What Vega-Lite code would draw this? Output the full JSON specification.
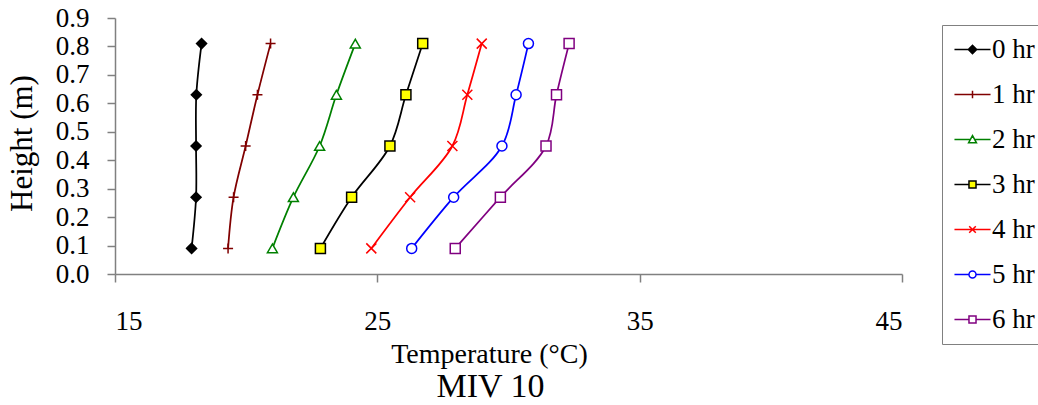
{
  "$schema": "https://vega.github.io/schema/vega-lite/v6.json",
  "width": 787,
  "height": 256,
  "autosize": {"type": "none"},
  "padding": {"left": 115, "top": 18, "right": 136, "bottom": 131},
  "background": "white",
  "config": {
    "font": "Liberation Serif",
    "view": {"stroke": null},
    "axis": {
      "grid": false,
      "labelFont": "Liberation Serif",
      "titleFont": "Liberation Serif",
      "labelColor": "black",
      "titleColor": "black",
      "titleFontWeight": "normal",
      "domainColor": "#808080",
      "tickColor": "#808080",
      "domainWidth": 1.5,
      "tickWidth": 1.5,
      "tickSize": 8
    }
  },
  "title": {
    "text": "MIV 10",
    "orient": "bottom",
    "anchor": "middle",
    "frame": "group",
    "font": "Liberation Serif",
    "fontSize": 34,
    "fontWeight": "normal",
    "color": "black",
    "dx": -18,
    "offset": 2
  },
  "data": {
    "values": [
      {"series": "0 hr", "temp": 17.92, "h": 0.09},
      {"series": "0 hr", "temp": 18.09, "h": 0.27},
      {"series": "0 hr", "temp": 18.09, "h": 0.45},
      {"series": "0 hr", "temp": 18.10, "h": 0.63},
      {"series": "0 hr", "temp": 18.30, "h": 0.81},
      {"series": "1 hr", "temp": 19.31, "h": 0.09},
      {"series": "1 hr", "temp": 19.52, "h": 0.27},
      {"series": "1 hr", "temp": 19.98, "h": 0.45},
      {"series": "1 hr", "temp": 20.43, "h": 0.63},
      {"series": "1 hr", "temp": 20.93, "h": 0.81},
      {"series": "2 hr", "temp": 21.00, "h": 0.09},
      {"series": "2 hr", "temp": 21.80, "h": 0.27},
      {"series": "2 hr", "temp": 22.80, "h": 0.45},
      {"series": "2 hr", "temp": 23.44, "h": 0.63},
      {"series": "2 hr", "temp": 24.16, "h": 0.81},
      {"series": "3 hr", "temp": 22.83, "h": 0.09},
      {"series": "3 hr", "temp": 24.02, "h": 0.27},
      {"series": "3 hr", "temp": 25.48, "h": 0.45},
      {"series": "3 hr", "temp": 26.09, "h": 0.63},
      {"series": "3 hr", "temp": 26.73, "h": 0.81},
      {"series": "4 hr", "temp": 24.77, "h": 0.09},
      {"series": "4 hr", "temp": 26.25, "h": 0.27},
      {"series": "4 hr", "temp": 27.86, "h": 0.45},
      {"series": "4 hr", "temp": 28.43, "h": 0.63},
      {"series": "4 hr", "temp": 28.98, "h": 0.81},
      {"series": "5 hr", "temp": 26.31, "h": 0.09},
      {"series": "5 hr", "temp": 27.91, "h": 0.27},
      {"series": "5 hr", "temp": 29.75, "h": 0.45},
      {"series": "5 hr", "temp": 30.29, "h": 0.63},
      {"series": "5 hr", "temp": 30.76, "h": 0.81},
      {"series": "6 hr", "temp": 27.97, "h": 0.09},
      {"series": "6 hr", "temp": 29.69, "h": 0.27},
      {"series": "6 hr", "temp": 31.43, "h": 0.45},
      {"series": "6 hr", "temp": 31.83, "h": 0.63},
      {"series": "6 hr", "temp": 32.31, "h": 0.81}
    ]
  },
  "encoding": {
    "x": {
      "field": "temp",
      "type": "quantitative",
      "scale": {"domain": [15, 45], "nice": false, "zero": false},
      "axis": {
        "values": [15, 25, 35, 45],
        "title": "Temperature (°C)",
        "labelFontSize": 27,
        "titleFontSize": 28,
        "labelPadding": 26,
        "titleX": 374,
        "titleY": 88,
        "titleBaseline": "alphabetic",
        "titleAlign": "center"
      }
    },
    "y": {
      "field": "h",
      "type": "quantitative",
      "scale": {"domain": [0, 0.9], "nice": false},
      "axis": {
        "values": [0, 0.1, 0.2, 0.3, 0.4, 0.5, 0.6, 0.7, 0.8, 0.9],
        "title": "Height (m)",
        "labelFontSize": 27,
        "titleFontSize": 31,
        "labelPadding": 18,
        "labelOverlap": false,
        "labelFlush": false,
        "titleX": -84,
        "titleY": 125,
        "titleBaseline": "alphabetic",
        "titleAlign": "center",
        "titleAngle": 270
      }
    }
  },
  "layer": [
    {
      "mark": {"type": "line", "interpolate": "catmull-rom", "strokeWidth": 1.75},
      "encoding": {
        "order": {"field": "h", "type": "quantitative"},
        "color": {
          "field": "series",
          "type": "nominal",
          "scale": {
            "domain": ["0 hr", "1 hr", "2 hr", "3 hr", "4 hr", "5 hr", "6 hr"],
            "range": ["black", "#800000", "#008000", "black", "#ff0000", "#0000ff", "#800080"]
          },
          "legend": {
            "title": null,
            "orient": "none",
            "legendX": 827,
            "legendY": 7,
            "strokeColor": "#808080",
            "fillColor": "white",
            "padding": 11,
            "labelFont": "Liberation Serif",
            "labelFontSize": 27,
            "labelColor": "black",
            "labelOffset": 6,
            "symbolOffset": 6,
            "symbolSize": 484,
            "symbolStrokeWidth": 1.5,
            "rowPadding": 17,
            "encode": {
              "symbols": {
                "update": {
                  "shape": {"signal": "datum.value === '0 hr' ? 'M-1.64,0H1.64M-0.38,0L0,-0.38L0.38,0L0,0.38Z' : datum.value === '1 hr' ? 'M-1.64,0H1.64M0,-0.34V0.34' : datum.value === '2 hr' ? 'M-1.64,0H-0.2M0.2,0H1.64M-0.36,0.3L0,-0.36L0.36,0.3Z' : datum.value === '4 hr' ? 'M-1.64,0H1.64M-0.3,-0.3L0.3,0.3M-0.3,0.3L0.3,-0.3' : datum.value === '5 hr' ? 'M-1.64,0H-0.32M0.32,0H1.64M0.32,0A0.32,0.32 0 1,1 -0.32,0A0.32,0.32 0 1,1 0.32,0Z' : 'M-1.64,0H-0.32M0.32,0H1.64M-0.32,-0.32H0.32V0.32H-0.32Z'"},
                  "fill": {"signal": "datum.value === '0 hr' ? 'black' : datum.value === '3 hr' ? '#ffff00' : 'white'"},
                  "fillOpacity": {"value": 1},
                  "opacity": {"value": 1}
                }
              }
            }
          }
        }
      }
    },
    {
      "transform": [{"calculate": "datum.series", "as": "marker"}],
      "mark": {"type": "point", "size": 100, "strokeWidth": 1.5, "opacity": 1, "fillOpacity": 1},
      "encoding": {
        "shape": {
          "field": "marker",
          "type": "nominal",
          "scale": {
            "domain": ["6 hr", "5 hr", "4 hr", "3 hr", "2 hr", "1 hr", "0 hr"],
            "range": ["square", "circle", "M-1,-1L1,1M-1,1L1,-1", "square", "triangle-up", "M0,-1V1M-1,0H1", "diamond"]
          },
          "legend": null
        },
        "stroke": {
          "field": "marker",
          "type": "nominal",
          "scale": {
            "domain": ["6 hr", "5 hr", "4 hr", "3 hr", "2 hr", "1 hr", "0 hr"],
            "range": ["#800080", "#0000ff", "#ff0000", "black", "#008000", "#800000", "black"]
          },
          "legend": null
        },
        "fill": {
          "field": "marker",
          "type": "nominal",
          "scale": {
            "domain": ["6 hr", "5 hr", "4 hr", "3 hr", "2 hr", "1 hr", "0 hr"],
            "range": ["white", "white", "white", "#ffff00", "white", "white", "black"]
          },
          "legend": null
        }
      }
    }
  ]
}
